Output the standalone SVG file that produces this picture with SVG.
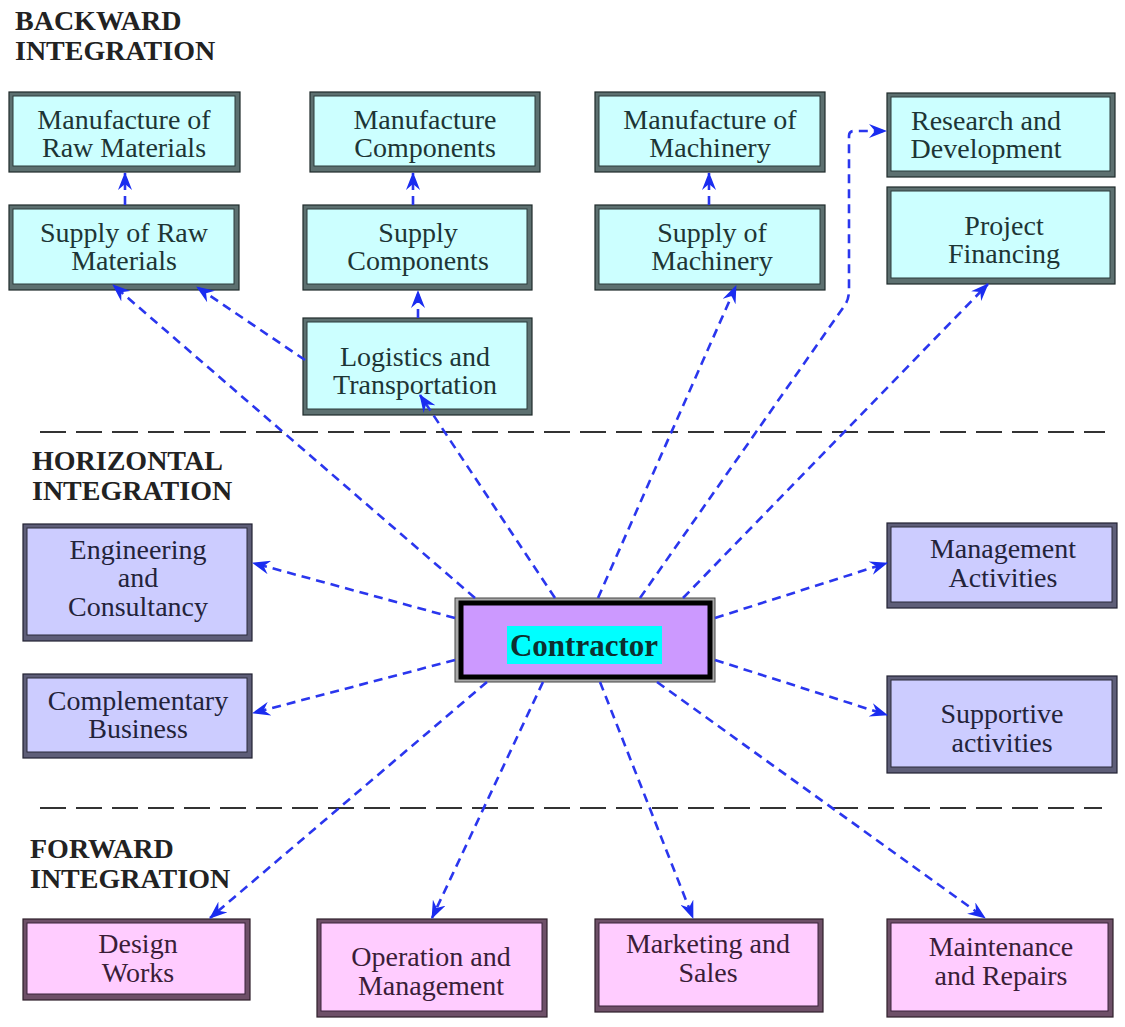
<svg xmlns="http://www.w3.org/2000/svg" width="1125" height="1027" viewBox="0 0 1125 1027">
<style>
text{font-family:"Liberation Serif","Times New Roman",serif;text-anchor:middle}
.lbl{font-size:28px}
.hd{font-size:28px;font-weight:bold;fill:#222;text-anchor:start}
.cy .o{fill:#5d7070;stroke:#1e2a2a;stroke-width:1.2}
.cy .i{fill:#ccffff;stroke:#2a3a3a;stroke-width:1}
.cy text{fill:#1d3535}
.pu .o{fill:#5e5e78;stroke:#222233;stroke-width:1.2}
.pu .i{fill:#ccccff;stroke:#2a2a3a;stroke-width:1}
.pu text{fill:#23233a}
.pk .o{fill:#6e5068;stroke:#2e1e2a;stroke-width:1.2}
.pk .i{fill:#ffccff;stroke:#3a223a;stroke-width:1}
.pk text{fill:#3a1d38}
.sep{stroke:#333;stroke-width:2;stroke-dasharray:26 10;fill:none}
.c{stroke:#2a36ee;stroke-width:2.6;stroke-dasharray:9 6;fill:none;marker-end:url(#ah)}
</style>
<defs>
<marker id="ah" viewBox="0 0 18 14" refX="17" refY="7" markerWidth="18" markerHeight="14" markerUnits="userSpaceOnUse" orient="auto">
<path d="M0,0 L18,7 L0,14 L6,7 Z" fill="#1a2cf0"/>
</marker>
</defs>
<rect width="1125" height="1027" fill="#fff"/>

<g id="headings">
<text class="hd" x="15" y="30">BACKWARD</text>
<text class="hd" x="15" y="60">INTEGRATION</text>
<text class="hd" x="32" y="470">HORIZONTAL</text>
<text class="hd" x="32" y="500">INTEGRATION</text>
<text class="hd" x="30" y="858">FORWARD</text>
<text class="hd" x="30" y="888">INTEGRATION</text>
</g>

<g id="separators">
<line class="sep" x1="40" y1="432" x2="1105" y2="432"/>
<line class="sep" x1="40" y1="808" x2="1102" y2="808"/>
</g>

<g id="n-mfg-raw" class="cy"><rect class="o" x="9" y="92" width="231" height="80"/><rect class="i" x="13" y="96" width="222" height="70"/><text class="lbl" x="124" y="129">Manufacture of</text><text class="lbl" x="124" y="157">Raw Materials</text></g>
<g id="n-mfg-comp" class="cy"><rect class="o" x="310" y="92" width="230" height="80"/><rect class="i" x="314" y="96" width="221" height="70"/><text class="lbl" x="425" y="129">Manufacture</text><text class="lbl" x="425" y="157">Components</text></g>
<g id="n-mfg-mach" class="cy"><rect class="o" x="595" y="92" width="230" height="80"/><rect class="i" x="599" y="96" width="221" height="70"/><text class="lbl" x="710" y="129">Manufacture of</text><text class="lbl" x="710" y="157">Machinery</text></g>
<g id="n-rnd" class="cy"><rect class="o" x="887" y="93" width="228" height="84"/><rect class="i" x="891" y="97" width="219" height="74"/><text class="lbl" x="986" y="130">Research and</text><text class="lbl" x="986" y="158">Development</text></g>
<g id="n-sup-raw" class="cy"><rect class="o" x="9" y="205" width="230" height="85"/><rect class="i" x="13" y="209" width="221" height="75"/><text class="lbl" x="124" y="242">Supply of Raw</text><text class="lbl" x="124" y="270">Materials</text></g>
<g id="n-sup-comp" class="cy"><rect class="o" x="303" y="205" width="229" height="85"/><rect class="i" x="307" y="209" width="220" height="75"/><text class="lbl" x="418" y="242">Supply</text><text class="lbl" x="418" y="270">Components</text></g>
<g id="n-sup-mach" class="cy"><rect class="o" x="595" y="205" width="230" height="85"/><rect class="i" x="599" y="209" width="221" height="75"/><text class="lbl" x="712" y="242">Supply of</text><text class="lbl" x="712" y="270">Machinery</text></g>
<g id="n-proj-fin" class="cy"><rect class="o" x="887" y="187" width="228" height="97"/><rect class="i" x="891" y="191" width="219" height="87"/><text class="lbl" x="1004" y="235">Project</text><text class="lbl" x="1004" y="263">Financing</text></g>
<g id="n-logistics" class="cy"><rect class="o" x="303" y="318" width="229" height="97"/><rect class="i" x="307" y="322" width="220" height="87"/><text class="lbl" x="415" y="366">Logistics and</text><text class="lbl" x="415" y="394">Transportation</text></g>

<g id="n-eng" class="pu"><rect class="o" x="23" y="524" width="229" height="117"/><rect class="i" x="27" y="528" width="220" height="107"/><text class="lbl" x="138" y="559">Engineering</text><text class="lbl" x="138" y="587">and</text><text class="lbl" x="138" y="616">Consultancy</text></g>
<g id="n-compl" class="pu"><rect class="o" x="23" y="674" width="229" height="84"/><rect class="i" x="27" y="678" width="220" height="74"/><text class="lbl" x="138" y="710">Complementary</text><text class="lbl" x="138" y="738">Business</text></g>
<g id="n-mgmt" class="pu"><rect class="o" x="887" y="523" width="230" height="85"/><rect class="i" x="891" y="527" width="221" height="75"/><text class="lbl" x="1003" y="558">Management</text><text class="lbl" x="1003" y="587">Activities</text></g>
<g id="n-support" class="pu"><rect class="o" x="887" y="676" width="230" height="97"/><rect class="i" x="891" y="680" width="221" height="87"/><text class="lbl" x="1002" y="723">Supportive</text><text class="lbl" x="1002" y="752">activities</text></g>

<g id="n-contractor"><rect x="455" y="598" width="260" height="84" fill="#a8a8a8" stroke="#444" stroke-width="1"/><rect x="461" y="603" width="249" height="74" fill="#cc99ff" stroke="#000" stroke-width="5"/><rect x="507" y="626" width="155" height="38" fill="#00ffff"/><text x="584" y="656" style="font-size:31px;font-weight:bold;fill:#0d3030">Contractor</text></g>

<g id="n-design" class="pk"><rect class="o" x="23" y="919" width="227" height="81"/><rect class="i" x="27" y="923" width="218" height="71"/><text class="lbl" x="138" y="953">Design</text><text class="lbl" x="138" y="982">Works</text></g>
<g id="n-oper" class="pk"><rect class="o" x="317" y="919" width="230" height="98"/><rect class="i" x="321" y="923" width="221" height="88"/><text class="lbl" x="431" y="966">Operation and</text><text class="lbl" x="431" y="995">Management</text></g>
<g id="n-market" class="pk"><rect class="o" x="595" y="919" width="228" height="93"/><rect class="i" x="599" y="923" width="219" height="83"/><text class="lbl" x="708" y="953">Marketing and</text><text class="lbl" x="708" y="982">Sales</text></g>
<g id="n-maint" class="pk"><rect class="o" x="887" y="919" width="226" height="98"/><rect class="i" x="891" y="923" width="217" height="88"/><text class="lbl" x="1001" y="956">Maintenance</text><text class="lbl" x="1001" y="985">and Repairs</text></g>

<g id="connectors">
<line class="c" x1="125" y1="205" x2="125" y2="173"/>
<line class="c" x1="413" y1="205" x2="413" y2="173"/>
<line class="c" x1="709" y1="205" x2="709" y2="173"/>
<line class="c" x1="418" y1="318" x2="418" y2="291"/>
<line class="c" x1="305" y1="360" x2="197" y2="287"/>
<line class="c" x1="475" y1="598" x2="113" y2="285"/>
<line class="c" x1="555" y1="598" x2="420" y2="395"/>
<line class="c" x1="598" y1="598" x2="736" y2="286"/>
<path class="c" d="M640,598 L845,305 Q849,299 849,290 L849,136 Q849,131 854,131 L886,131"/>
<line class="c" x1="683" y1="598" x2="988" y2="284"/>
<line class="c" x1="455" y1="618" x2="253" y2="563"/>
<line class="c" x1="455" y1="660" x2="253" y2="713"/>
<line class="c" x1="715" y1="618" x2="887" y2="563"/>
<line class="c" x1="715" y1="660" x2="887" y2="715"/>
<line class="c" x1="487" y1="682" x2="210" y2="918"/>
<line class="c" x1="543" y1="682" x2="432" y2="918"/>
<line class="c" x1="600" y1="682" x2="693" y2="918"/>
<line class="c" x1="657" y1="682" x2="985" y2="918"/>
</g>
</svg>
